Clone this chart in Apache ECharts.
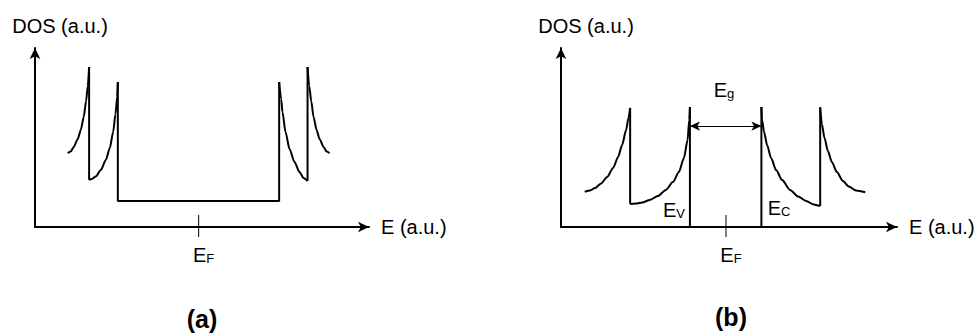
<!DOCTYPE html>
<html>
<head>
<meta charset="utf-8">
<script src="https://cdn.jsdelivr.net/npm/echarts@6/dist/echarts.min.js"></script>
<style>
  html, body { margin: 0; padding: 0; background: #ffffff; }
  #chart { width: 978px; height: 336px; }
</style>
</head>
<body>
<div id="chart"></div>
<script>
// Energy axis in a.u. with the Fermi level at 0; DOS axis in a.u.
const energyRangeA = [-4.9, 5.1];
const energyRangeB = [-4.94, 5.12];
const dosRange = [0, 10];

// (a) metallic tube: two van Hove spikes on each side, flat DOS across E_F
const metalCurveL1 = [[-3.92, 4.13], [-3.83, 4.22], [-3.74, 4.47], [-3.62, 4.92], [-3.53, 5.42],
  [-3.44, 6.15], [-3.37, 7.04], [-3.32, 7.88], [-3.28, 8.94]];
const metalCurveL2 = [[-3.28, 2.63], [-3.20, 2.68], [-3.08, 2.82], [-2.93, 3.18], [-2.78, 3.74],
  [-2.66, 4.41], [-2.56, 5.31], [-2.49, 6.31], [-2.44, 7.26], [-2.42, 8.10]];
const metalCurveR1 = [[2.41, 8.10], [2.47, 7.15], [2.51, 6.42], [2.60, 5.31], [2.72, 4.36],
  [2.87, 3.63], [3.02, 3.07], [3.14, 2.74], [3.26, 2.57]];
const metalCurveR2 = [[3.26, 8.94], [3.31, 7.88], [3.37, 7.04], [3.44, 6.15], [3.53, 5.42],
  [3.62, 4.92], [3.74, 4.47], [3.83, 4.22], [3.92, 4.13]];
const metalEdges = [
  [[-3.28, 8.94], [-3.28, 2.63]],
  [[-2.42, 8.10], [-2.42, 1.45], [2.41, 1.45], [2.41, 8.10]],
  [[3.26, 2.57], [3.26, 8.94]]
];

// (b) semiconducting tube: band gap between E_V and E_C
const semiCurveL1 = [[-4.23, 1.97], [-4.07, 2.04], [-3.92, 2.18], [-3.74, 2.43], [-3.56, 2.79],
  [-3.38, 3.30], [-3.23, 3.91], [-3.11, 4.58], [-2.99, 5.42], [-2.92, 6.09], [-2.87, 6.65]];
const semiCurveL2 = [[-2.87, 1.29], [-2.69, 1.31], [-2.51, 1.37], [-2.28, 1.51], [-2.04, 1.73],
  [-1.80, 2.07], [-1.59, 2.51], [-1.41, 3.07], [-1.26, 3.85], [-1.15, 4.86], [-1.10, 5.98], [-1.08, 6.70]];
const semiCurveR1 = [[1.06, 6.70], [1.08, 5.98], [1.14, 5.31], [1.23, 4.58], [1.35, 3.85],
  [1.50, 3.18], [1.68, 2.63], [1.92, 2.07], [2.16, 1.70], [2.40, 1.45], [2.63, 1.26], [2.82, 1.17]];
const semiCurveR2 = [[2.82, 6.69], [2.87, 5.75], [2.95, 4.97], [3.05, 4.25], [3.17, 3.63],
  [3.32, 3.07], [3.50, 2.57], [3.68, 2.26], [3.89, 2.04], [4.17, 1.94]];
const semiEdges = [
  [[-2.87, 6.65], [-2.87, 1.29]],
  [[-1.08, 6.70], [-1.08, 0]],
  [[1.06, 0], [1.06, 6.70]],
  [[2.82, 1.17], [2.82, 6.69]]
];
const gapArrow = [[-1.08, 5.64], [1.06, 5.64]];

// Fermi-level tick and text labels (positions in axis units)
const fermiTick = [[0, 0.67], [0, -0.56]];
const fermiLabelA = [0.15, -1.54];
const fermiLabelB = [0.15, -1.54];
const valenceLabel = [-1.56, 0.95];
const conductionLabel = [1.59, 1.06];
const gapLabel = [-0.06, 7.65];

const FONT = 'Liberation Sans, Arial, sans-serif';
const INK = '#000000';

const chart = echarts.init(document.getElementById('chart'), null, { renderer: 'svg' });

function curveSeries(points, idx) {
  return {
    type: 'line', xAxisIndex: idx, yAxisIndex: idx, data: points,
    smooth: 0.25, smoothMonotone: 'x', showSymbol: false, silent: true, clip: false,
    lineStyle: { color: INK, width: 2 }
  };
}
function edgeSeries(points, idx) {
  return {
    type: 'line', xAxisIndex: idx, yAxisIndex: idx, data: points,
    showSymbol: false, silent: true, clip: false,
    lineStyle: { color: INK, width: 2 }
  };
}
function tickSeries(idx) {
  return {
    type: 'line', xAxisIndex: idx, yAxisIndex: idx, data: fermiTick,
    showSymbol: false, silent: true, clip: false,
    lineStyle: { color: INK, width: 1 }
  };
}
const rich = {
  m: { fontSize: 20, fontFamily: FONT, color: INK, opacity: 1 },
  s: { fontSize: 13, fontFamily: FONT, color: INK, opacity: 1, verticalAlign: 'bottom', padding: [6, 0, 0, 0] }
};
function textSeries(pos, text, idx) {
  return {
    type: 'scatter', xAxisIndex: idx, yAxisIndex: idx, data: [pos],
    symbolSize: 0, silent: true, clip: false,
    itemStyle: { opacity: 1 },
    label: {
      show: true, position: [0, 0], align: 'center', verticalAlign: 'middle',
      color: INK, opacity: 1, formatter: text, rich: rich
    }
  };
}
function xAxisFor(range, idx) {
  return {
    type: 'value', gridIndex: idx, min: range[0], max: range[1],
    name: 'E (a.u.)', nameLocation: 'end', nameGap: 12,
    nameTextStyle: { fontSize: 20, fontFamily: FONT, color: INK, padding: [12, 0, 0, 0] },
    axisLine: { show: true, onZero: false, symbol: ['none', 'arrow'], symbolSize: [8, 11],
      lineStyle: { color: INK, width: 2 } },
    axisTick: { show: false }, axisLabel: { show: false }, splitLine: { show: false }
  };
}
function yAxisFor(idx) {
  return {
    type: 'value', gridIndex: idx, min: dosRange[0], max: dosRange[1],
    name: 'DOS (a.u.)', nameLocation: 'end', nameGap: 12,
    nameTextStyle: { fontSize: 20, fontFamily: FONT, color: INK, align: 'center', padding: [0, 0, 0, 50] },
    axisLine: { show: true, onZero: false, symbol: ['none', 'arrow'], symbolSize: [8, 11],
      lineStyle: { color: INK, width: 2 } },
    axisTick: { show: false }, axisLabel: { show: false }, splitLine: { show: false }
  };
}

const series = [];
[metalCurveL1, metalCurveL2, metalCurveR1, metalCurveR2].forEach(c => series.push(curveSeries(c, 0)));
metalEdges.forEach(e => series.push(edgeSeries(e, 0)));
series.push(tickSeries(0));
series.push(textSeries(fermiLabelA, '{m|E}{s|F}', 0));

[semiCurveL1, semiCurveL2, semiCurveR1, semiCurveR2].forEach(c => series.push(curveSeries(c, 1)));
semiEdges.forEach(e => series.push(edgeSeries(e, 1)));
const gapTick = tickSeries(1);
gapTick.markLine = {
  silent: true, symbol: ['arrow', 'arrow'], symbolSize: [7, 10],
  label: { show: false },
  lineStyle: { color: INK, width: 1, type: 'solid' },
  data: [[{ coord: gapArrow[0] }, { coord: gapArrow[1] }]]
};
series.push(gapTick);
series.push(textSeries(fermiLabelB, '{m|E}{s|F}', 1));
series.push(textSeries(valenceLabel, '{m|E}{s|V}', 1));
series.push(textSeries(conductionLabel, '{m|E}{s|C}', 1));
series.push(textSeries(gapLabel, '{m|E}{s|g}', 1));

chart.setOption({
  animation: false,
  backgroundColor: '#ffffff',
  grid: [
    { left: 35, top: 48, width: 334, height: 179 },
    { left: 561, top: 48, width: 336, height: 179 }
  ],
  xAxis: [xAxisFor(energyRangeA, 0), xAxisFor(energyRangeB, 1)],
  yAxis: [yAxisFor(0), yAxisFor(1)],
  series: series,
  graphic: [
    { type: 'text', x: 202, y: 319, silent: true,
      style: { text: '(a)', font: 'bold 25px ' + FONT, fill: INK, align: 'center', verticalAlign: 'middle' } },
    { type: 'text', x: 731, y: 317, silent: true,
      style: { text: '(b)', font: 'bold 25px ' + FONT, fill: INK, align: 'center', verticalAlign: 'middle' } }
  ]
});
</script>
</body>
</html>
